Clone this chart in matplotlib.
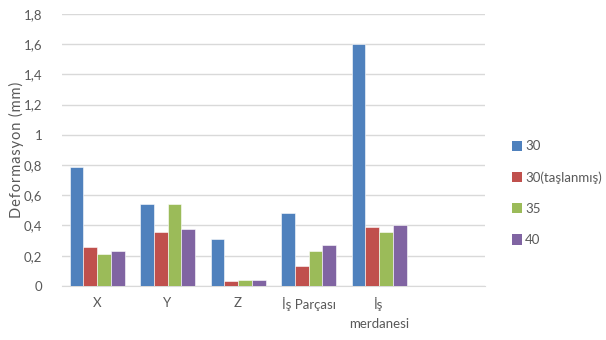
import numpy as np
import matplotlib.pyplot as plt
from matplotlib.patches import Patch

plt.rcParams['font.family'] = ['Lato', 'DejaVu Sans']

categories = ["X", "Y", "Z", "İş Parçası", "İş\nmerdanesi", ""]
series = ["30", "30(taşlanmış)", "35", "40"]
v30 = [0.79, 0.54, 0.31, 0.48, 1.60]
v30t = [0.26, 0.36, 0.03, 0.13, 0.39]
v35 = [0.21, 0.54, 0.04, 0.23, 0.36]
v40 = [0.23, 0.38, 0.04, 0.27, 0.40]
colors = ["#4F81BD", "#C0504D", "#9BBB59", "#8064A2"]
txt = "#595959"

fig = plt.figure(figsize=(6.06, 3.4), dpi=100)
ax = fig.add_axes([0.102, 0.159, 0.698, 0.8])

x = np.arange(len(v30))
w = 0.195
for i, vals in enumerate([v30, v30t, v35, v40]):
    ax.bar(x + (i - 1.5) * w, vals, w, color=colors[i], edgecolor="white",
           linewidth=0.4, zorder=3)

ax.set_xlim(-0.5, len(categories) - 0.5)
ax.set_ylim(0, 1.8)
ax.set_yticks(np.arange(0, 1.81, 0.2))
ax.set_yticklabels(["0" if t == 0 else ("%g" % t).replace(".", ",")
                    for t in np.arange(0, 1.81, 0.2)])
ax.set_xticks(np.arange(len(categories)))
ax.set_xticklabels(categories, va="top", linespacing=1.7)
ax.tick_params(axis="both", length=0, colors=txt, labelsize=9.5)
ax.tick_params(axis="x", pad=8)
ax.tick_params(axis="y", pad=14)
ax.grid(axis="y", color="#D9D9D9", linewidth=1, zorder=0)
for s in ["top", "right", "left"]:
    ax.spines[s].set_visible(False)
ax.spines["bottom"].set_color("#D9D9D9")
# hair spaces between letters give the wide tracking of the axis title
ax.set_ylabel("\u200a".join("Deformasyon (mm)"), color=txt,
              fontsize=10.5, labelpad=0)

handles = [Patch(facecolor=c, edgecolor="none") for c in colors]
fig.legend(handles, series, loc="center left", bbox_to_anchor=(0.825, 0.432),
           frameon=False, fontsize=9.5, labelcolor=txt, handlelength=0.8,
           handleheight=0.8, handletextpad=0.2, labelspacing=1.45)

fig.savefig("out.png", dpi=100)
